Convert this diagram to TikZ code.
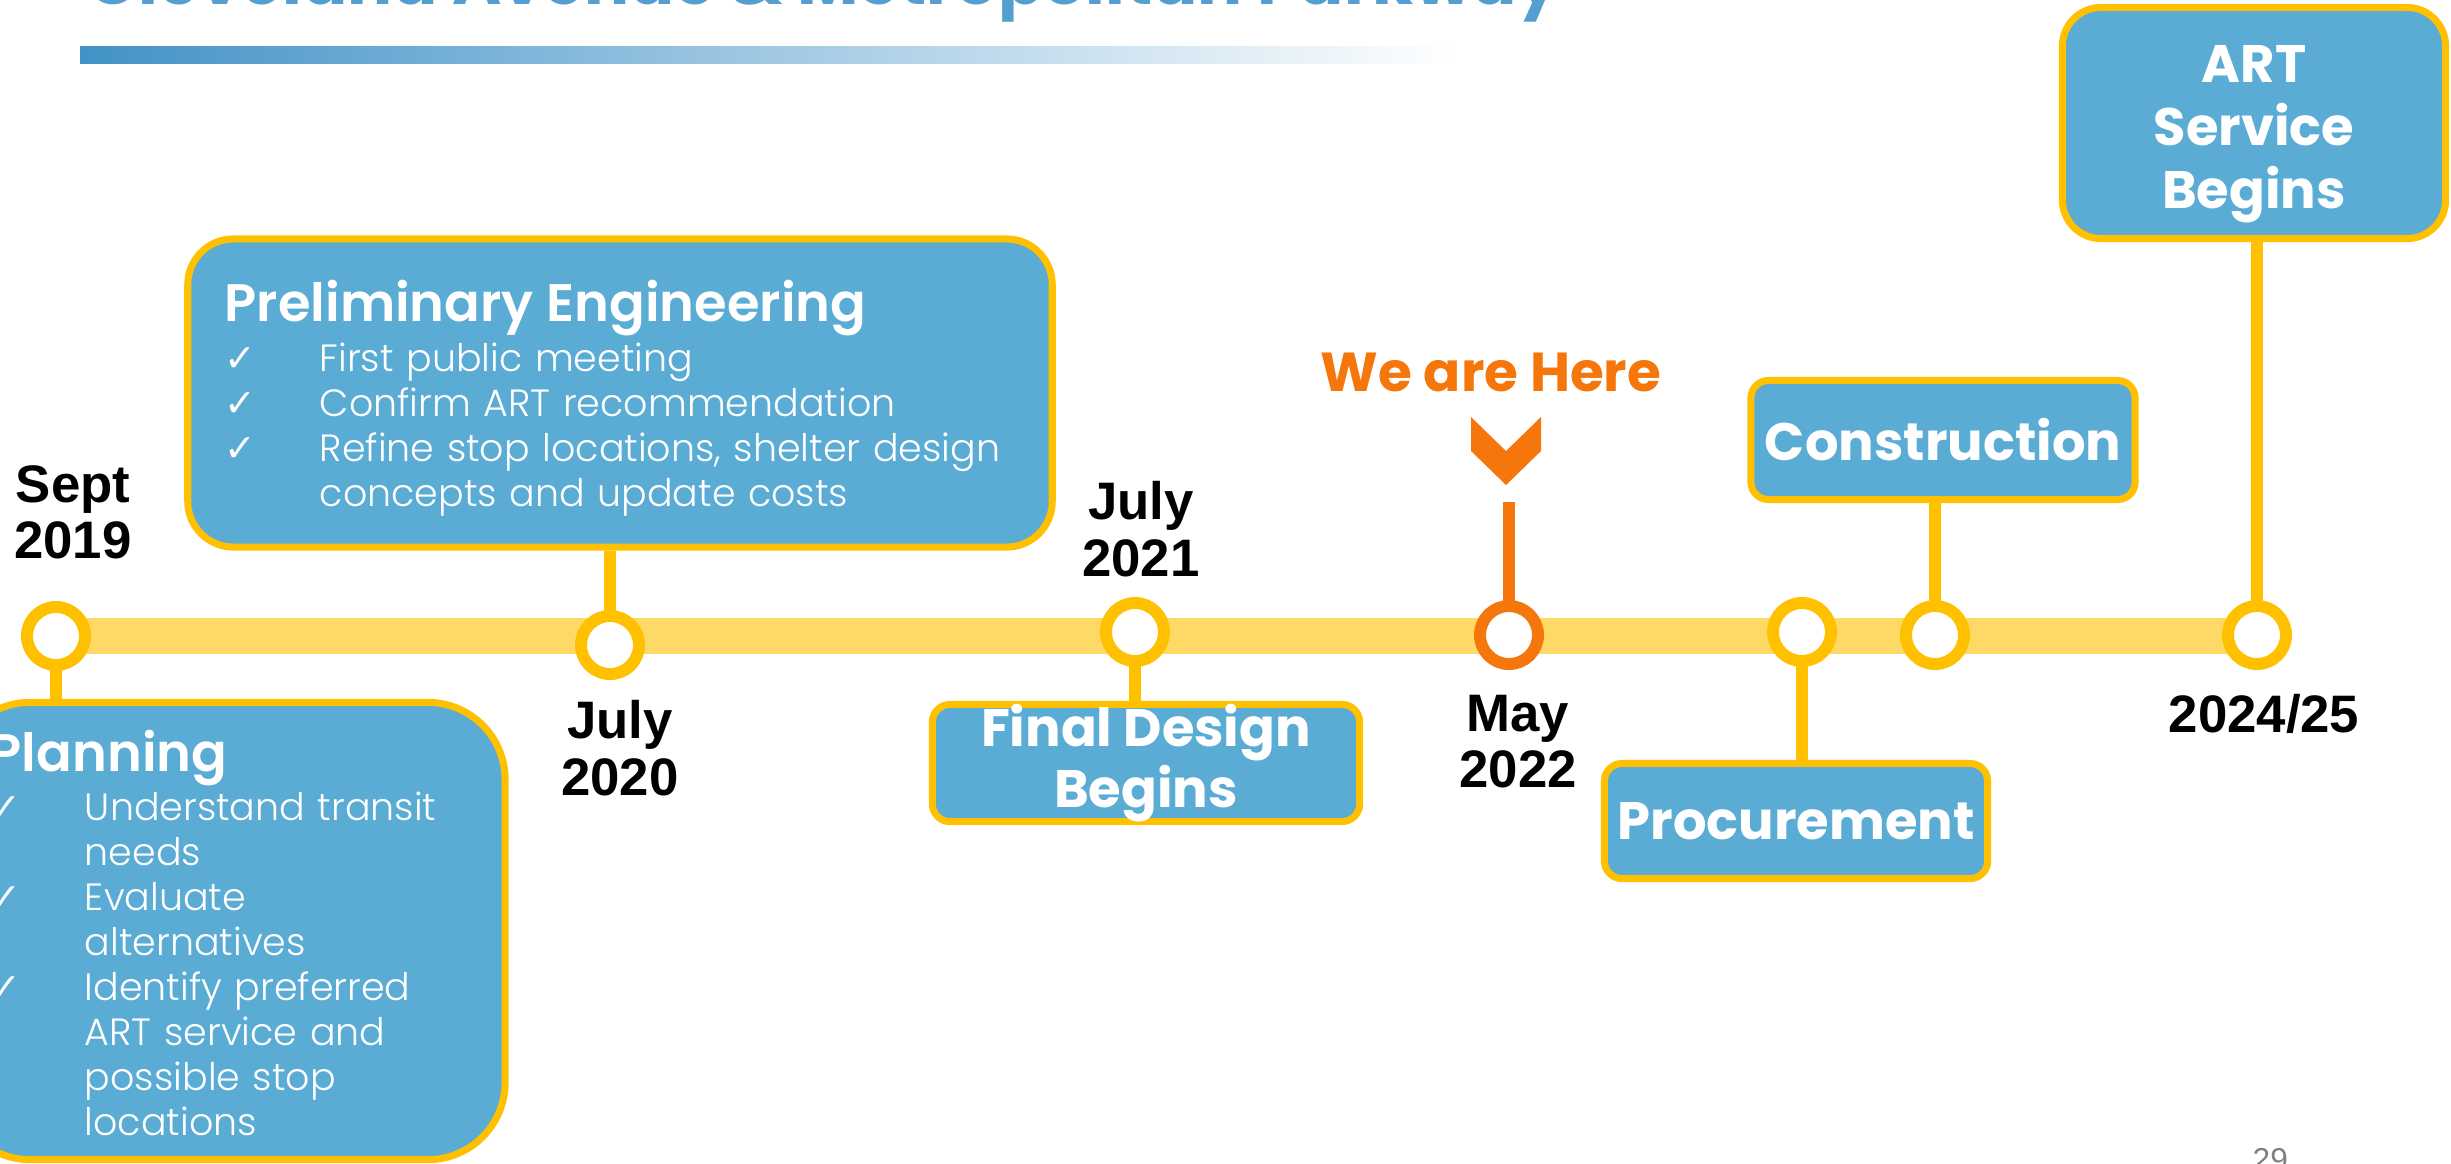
\documentclass[tikz,border=0pt]{standalone}
\usepackage{fontspec}
\setmainfont{Poppins}
\newfontfamily\lightfamily{Poppins Light}
\newfontfamily\datefamily{Liberation Sans}
\newfontfamily\chkfamily{DejaVu Sans}
\usepackage{tikz}
\usetikzlibrary{backgrounds}

\definecolor{boxblue}{RGB}{91,172,212}
\definecolor{boxedge}{RGB}{255,192,0}
\definecolor{barfill}{RGB}{255,217,102}
\definecolor{hereorange}{RGB}{245,118,10}
\definecolor{titleblue}{RGB}{84,158,208}
\definecolor{ruleblue}{RGB}{66,146,199}

\newcommand{\headfont}{\fontsize{15}{16}\selectfont\bfseries}
\newcommand{\listfont}{\lightfamily\fontsize{10.8}{12.8}\selectfont}
\newcommand{\chk}{\makebox[0.95cm][l]{\chkfamily ✓}}
\newcommand{\gap}{\hspace*{0.95cm}}

\begin{document}
\begin{tikzpicture}[
    x=0.01cm, y=-0.01cm,
    stage/.style={rectangle, draw=boxedge, fill=boxblue, line width=2pt, rounded corners=5pt, text=white, font=\headfont, align=center, inner sep=0pt},
    notes/.style={stage, font=\listfont, align=left, inner xsep=0.37cm},
    milestone/.style={circle, draw=boxedge, fill=white, line width=3.4pt, minimum size=0.58cm, inner sep=0pt},
    stem/.style={boxedge, line width=3.4pt},
    datelbl/.style={font=\datefamily\bfseries\fontsize{15}{16}\selectfont, align=center, inner sep=0pt}
]
\useasboundingbox (0,0) rectangle (2451,1163);
\clip (0,0) rectangle (2451,1163);

% Heading (cut by the top edge)
\node[anchor=base west, text=titleblue, font=\fontsize{19}{20}\selectfont\bfseries, inner sep=0pt] (title) at (87,4) {Cleveland Avenue \& Metropolitan Parkway};
\shade[left color=ruleblue, right color=white] (80,46) rectangle (1460,63);

% Milestones on the line
\node[milestone] (c2019) at (56,636) {};
\node[milestone] (c2020) at (610,645) {};
\node[milestone] (c2021) at (1135,632) {};
\node[milestone, draw=hereorange] (cnow) at (1509,635) {};
\node[milestone] (cproc) at (1802,632) {};
\node[milestone] (cconst) at (1935,635) {};
\node[milestone] (cart) at (2257,635) {};

% Phase boxes
\node[notes, rounded corners=22pt, text width=4.78cm, minimum height=4.57cm] (plan) at (229,931) {{\headfont\rule{0pt}{13pt}Planning}\\[1.2pt]
\chk Understand transit\\
\gap needs\\
\chk Evaluate\\
\gap alternatives\\
\chk Identify preferred\\
\gap ART service and\\
\gap possible stop\\
\gap locations};

\node[notes, rounded corners=13pt, text width=7.9cm, minimum height=3.08cm] (prelim) at (620,393) {{\headfont\rule{0pt}{14.7pt}Preliminary Engineering}\\[1.2pt]
\chk First public meeting\\
\chk Confirm ART recommendation\\
\chk \mbox{Refine stop locations, shelter design}\\
\gap concepts and update costs};

\node[stage, minimum width=4.27cm, minimum height=1.17cm] (final) at (1146,763) {Final Design\\Begins};
\node[stage, minimum width=3.84cm, minimum height=1.19cm] (constr) at (1943,440) {Construction};
\node[stage, minimum width=3.83cm, minimum height=1.15cm] (procure) at (1796,821) {Procurement};
\node[stage, rounded corners=11pt, minimum width=3.83cm, minimum height=2.31cm, font=\fontsize{15}{18}\selectfont\bfseries] (art) at (2254,123) {\rule{0pt}{17pt}ART\\Service\\Begins};

% Dates
\node[datelbl, anchor=north] (d2019) at (73,465) {Sept\\2019};
\node[datelbl, anchor=north] (d2020) at (620,700) {July\\2020};
\node[datelbl, anchor=north] (d2021) at (1141,481) {July\\2021};
\node[datelbl, anchor=north] (d2022) at (1518,694) {May\\2022};
\node[datelbl, anchor=base] (d2025) at (2264,732) {2024/25};

% We are Here marker
\node[anchor=base, text=hereorange, font=\fontsize{15.6}{16}\selectfont\bfseries, inner sep=0pt] (herelbl) at (1491,391) {We are Here};
\coordinate (here) at (1506,451);
\coordinate (herestem) at (1509,502);
\fill[hereorange, shift={(here)}] (-35,-34) -- (0,0) -- (35,-34) -- (35,0) -- (0,34) -- (-35,0) -- cycle;

% Line and stems behind
\begin{scope}[on background layer]
\draw[barfill, line width=10.2pt] (c2019.center) -- (c2019.center -| cart.center);
\draw[stem] (c2019.center) -- (c2019.center |- plan.north);
\draw[stem] (c2020.center) -- (c2020.center |- prelim.south);
\draw[stem] (c2021.center) -- (c2021.center |- final.north);
\draw[stem] (cproc.center) -- (cproc.center |- procure.north);
\draw[stem] (cconst.center) -- (cconst.center |- constr.south);
\draw[stem] (cart.center) -- (cart.center |- art.south);
\draw[hereorange, line width=3.4pt] (herestem) -- (cnow.center);
\end{scope}

\node[anchor=base west, text=gray, font=\datefamily\fontsize{9}{10}\selectfont, inner sep=0pt] (pageno) at (2252,1170) {29};

\end{tikzpicture}
\end{document}
